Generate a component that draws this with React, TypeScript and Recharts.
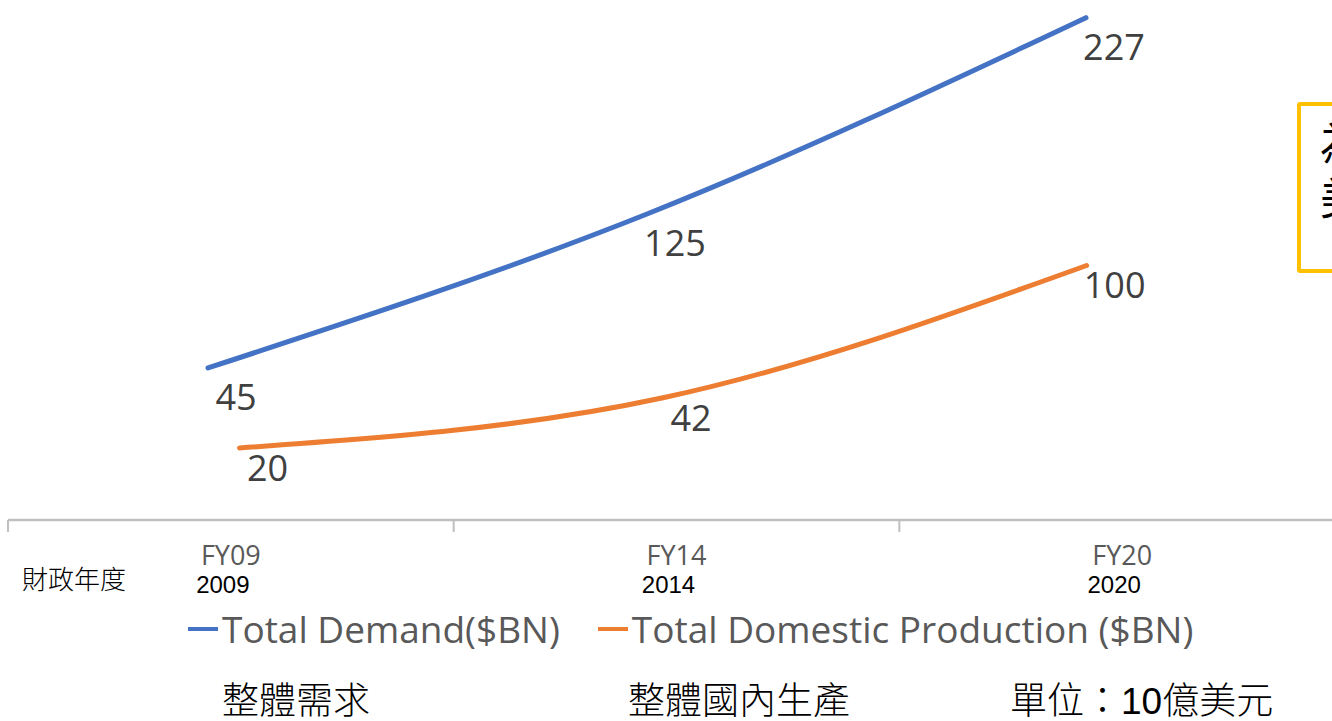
import React from 'react';
import { LineChart, Line, XAxis, YAxis, Legend, LabelList } from 'recharts';

const categories = ['FY09', 'FY14', 'FY20'];
const years = ['2009', '2014', '2020'];
const demand = [45, 125, 227];
const production = [20, 42, 100];
const seriesNames = ['Total Demand($BN)', 'Total Domestic Production ($BN)'];
const bottomLabels = ['整體需求', '整體國內生產', '單位：10億美元'];

const data = categories.map((c, i) => ({
  idx: i,
  name: c,
  demand: demand[i],
  production: production[i],
}));

const latin = "'Open Sans', 'Noto Sans', sans-serif";
const cjk = "'Liberation Sans', 'Noto Sans CJK TC', sans-serif";

const CatTick = (props: any) => {
  const { x, y, payload } = props;
  const i = payload.value;
  return (
    <g>
      <text x={x} y={y + 44} textAnchor="middle" fill="#595959" fontFamily={latin} fontSize={27}>
        {categories[i]}
      </text>
      <text x={x - 8} y={y + 72} textAnchor="middle" fill="#000" fontFamily="'Liberation Sans', Arial" fontWeight={400} fontSize={24}>
        {years[i]}
      </text>
    </g>
  );
};

// boundary ticks only need their tick lines
const NoLabel = () => <g />;

const makeLabel = (dx: number, dy: number) => (props: any) => {
  const x = props.x ?? props.viewBox?.x;
  const y = props.y ?? props.viewBox?.y;
  return (
    <text x={x + dx} y={y + dy} textAnchor="middle" fill="#404040" fontFamily={latin} fontSize={36}>
      {props.value}
    </text>
  );
};

const LegendContent = (props: any) => (
  <div style={{ display: 'flex', alignItems: 'center', fontFamily: latin, fontSize: 37, color: '#595959', lineHeight: '44px', whiteSpace: 'nowrap' }}>
    {(props.payload || []).map((p: any, k: number) => (
      <div key={k} style={{ display: 'flex', alignItems: 'center', marginRight: 38 }}>
        <span style={{ display: 'inline-block', width: 30, height: 4, background: p.color, marginRight: 4 }} />
        <span>{p.value}</span>
      </div>
    ))}
  </div>
);

export default function App() {
  return (
    <div style={{ position: 'absolute', left: 0, top: 0, width: 1332, height: 721, overflow: 'hidden', background: '#fff' }}>
      <LineChart width={1345} height={721} data={data} margin={{ top: 0, right: 0, bottom: 141, left: 8 }}>
        <XAxis
          xAxisId="a0"
          type="number"
          dataKey="idx"
          domain={[-0.5, 2.5]}
          allowDataOverflow
          ticks={[-0.5, 0.5, 1.5, 2.5]}
          tick={<NoLabel />}
          tickSize={12}
          axisLine={{ stroke: '#BFBFBF', strokeWidth: 2.5 }}
          tickLine={{ stroke: '#BFBFBF', strokeWidth: 2 }}
          interval={0}
          height={1}
        />
        <XAxis
          xAxisId="b1"
          type="number"
          dataKey="idx"
          domain={[-0.5, 2.5]}
          allowDataOverflow
          ticks={[0, 1, 2]}
          tick={<CatTick />}
          tickSize={0}
          tickMargin={0}
          axisLine={false}
          tickLine={false}
          interval={0}
          height={59}
        />
        <XAxis xAxisId="xBlue" type="number" dataKey="idx" domain={[-0.4556, 2.59]} allowDataOverflow hide height={0} />
        <XAxis xAxisId="xOrange" type="number" dataKey="idx" domain={[-0.5466, 2.61]} allowDataOverflow hide height={0} />
        <YAxis yAxisId="yBlue" domain={[-34, 236.2]} allowDataOverflow hide />
        <YAxis yAxisId="yOrange" domain={[-11.6, 216.4]} allowDataOverflow hide />
        <Legend
          verticalAlign="middle"
          align="center"
          layout="horizontal"
          content={<LegendContent />}
          wrapperStyle={{ top: 607, left: 188, width: 1140 }}
        />
        <Line
          xAxisId="xBlue"
          yAxisId="yBlue"
          type="monotone"
          dataKey="demand"
          name={seriesNames[0]}
          stroke="#4472C4"
          strokeWidth={5}
          strokeLinecap="round"
          dot={false}
          activeDot={false}
          isAnimationActive={false}
        >
          <LabelList dataKey="demand" content={makeLabel(28, 42)} />
        </Line>
        <Line
          xAxisId="xOrange"
          yAxisId="yOrange"
          type="monotone"
          dataKey="production"
          name={seriesNames[1]}
          stroke="#ED7D31"
          strokeWidth={5}
          strokeLinecap="round"
          dot={false}
          activeDot={false}
          isAnimationActive={false}
        >
          <LabelList dataKey="production" content={makeLabel(28, 33)} />
        </Line>
      </LineChart>

      <div style={{ position: 'absolute', left: 22, top: 567, fontFamily: cjk, fontSize: 26, lineHeight: 1, color: '#000', fontWeight: 300 }}>
        財政年度
      </div>
      {bottomLabels.map((t, k) => (
        <div
          key={t}
          style={{ position: 'absolute', left: [222, 628, 1010][k], top: 683, fontFamily: cjk, fontSize: 37, lineHeight: 1, color: '#000', fontWeight: 300, whiteSpace: 'nowrap' }}
        >
          {t}
        </div>
      ))}
      <div
        style={{
          position: 'absolute',
          left: 1297,
          top: 102,
          width: 80,
          height: 152,
          border: '4px solid #FFC000',
          borderRadius: 3,
          boxSizing: 'content-box',
          padding: '11px 0 0 19px',
          fontFamily: cjk,
          fontSize: 44,
          lineHeight: '55px',
          color: '#000',
        }}
      >
        <div>為</div>
        <div>美</div>
      </div>
    </div>
  );
}
